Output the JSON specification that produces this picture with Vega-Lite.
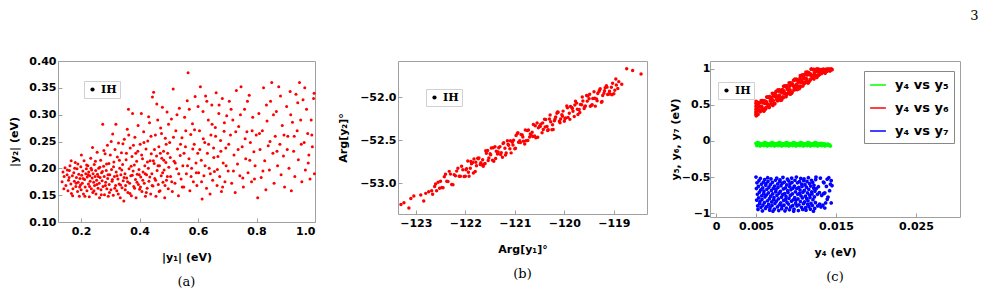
{
"$schema": "https://vega.github.io/schema/vega-lite/v6.json",
"background": "white",
"padding": {"left": 8, "top": 9, "right": 12, "bottom": 2},
"title": {"text": "3", "anchor": "end", "font": "DejaVu Serif", "fontSize": 13, "fontWeight": "normal", "offset": 32, "dx": 18, "color": "#000"},
"spacing": 20,
"resolve": {"scale": {"shape": "independent", "color": "independent"}, "legend": {"shape": "independent", "color": "independent"}},
"datasets": {
"a": [
{"x":0.135,"y":0.175},{"x":0.138,"y":0.193},{"x":0.142,"y":0.185},{"x":0.145,"y":0.201},{"x":0.148,"y":0.168},{"x":0.152,"y":0.188},{"x":0.155,"y":0.158},{"x":0.157,"y":0.178},{"x":0.16,"y":0.196},{"x":0.162,"y":0.205},{"x":0.165,"y":0.171},{"x":0.167,"y":0.153},{"x":0.17,"y":0.186},{"x":0.172,"y":0.162},{"x":0.175,"y":0.192},{"x":0.177,"y":0.176},{"x":0.18,"y":0.211},{"x":0.182,"y":0.166},{"x":0.184,"y":0.183},{"x":0.186,"y":0.199},{"x":0.188,"y":0.157},{"x":0.19,"y":0.174},{"x":0.192,"y":0.189},{"x":0.194,"y":0.148},{"x":0.196,"y":0.181},{"x":0.198,"y":0.169},{"x":0.199,"y":0.203},{"x":0.2,"y":0.16},
{"x":0.202,"y":0.187},{"x":0.204,"y":0.172},{"x":0.206,"y":0.195},{"x":0.208,"y":0.152},{"x":0.21,"y":0.214},{"x":0.212,"y":0.179},{"x":0.214,"y":0.165},{"x":0.216,"y":0.19},{"x":0.218,"y":0.199},{"x":0.22,"y":0.158},{"x":0.221,"y":0.184},{"x":0.223,"y":0.205},{"x":0.225,"y":0.171},{"x":0.226,"y":0.193},{"x":0.228,"y":0.147},{"x":0.23,"y":0.186},{"x":0.231,"y":0.176},{"x":0.233,"y":0.219},{"x":0.235,"y":0.162},{"x":0.236,"y":0.197},{"x":0.238,"y":0.182},{"x":0.24,"y":0.155},{"x":0.241,"y":0.19},{"x":0.243,"y":0.174},{"x":0.245,"y":0.207},{"x":0.246,"y":0.168},{"x":0.248,"y":0.185},{"x":0.25,"y":0.196},{"x":0.251,"y":0.152},{"x":0.253,"y":0.178},{"x":0.255,"y":0.23},{"x":0.256,"y":0.189},{"x":0.258,"y":0.163},{"x":0.26,"y":0.2},{"x":0.262,"y":0.172},{"x":0.263,"y":0.145},{"x":0.265,"y":0.183},{"x":0.267,"y":0.215},{"x":0.268,"y":0.16},{"x":0.27,"y":0.192},{"x":0.272,"y":0.177},{"x":0.274,"y":0.282},{"x":0.275,"y":0.166},{"x":0.277,"y":0.204},{"x":0.279,"y":0.185},{"x":0.28,"y":0.151},{"x":0.282,"y":0.227},{"x":0.284,"y":0.174},{"x":0.286,"y":0.196},{"x":0.288,"y":0.162},{"x":0.29,"y":0.243},{"x":0.291,"y":0.181},{"x":0.293,"y":0.148},{"x":0.295,"y":0.209},{"x":0.296,"y":0.17},{"x":0.298,"y":0.188},{"x":0.3,"y":0.225},
{"x":0.302,"y":0.16},{"x":0.304,"y":0.198},{"x":0.306,"y":0.176},{"x":0.308,"y":0.264},{"x":0.31,"y":0.15},{"x":0.312,"y":0.212},{"x":0.314,"y":0.185},{"x":0.316,"y":0.235},{"x":0.318,"y":0.168},{"x":0.32,"y":0.193},{"x":0.322,"y":0.158},{"x":0.324,"y":0.221},{"x":0.326,"y":0.18},{"x":0.328,"y":0.247},{"x":0.33,"y":0.171},{"x":0.332,"y":0.2},{"x":0.334,"y":0.145},{"x":0.336,"y":0.188},{"x":0.338,"y":0.229},{"x":0.34,"y":0.164},{"x":0.342,"y":0.207},{"x":0.344,"y":0.177},{"x":0.346,"y":0.139},{"x":0.348,"y":0.254},{"x":0.35,"y":0.19},{"x":0.352,"y":0.168},{"x":0.354,"y":0.216},{"x":0.356,"y":0.182},{"x":0.358,"y":0.273},{"x":0.36,"y":0.155},{"x":0.362,"y":0.31},{"x":0.364,"y":0.199},{"x":0.366,"y":0.172},{"x":0.368,"y":0.238},{"x":0.37,"y":0.186},{"x":0.372,"y":0.149},{"x":0.374,"y":0.222},{"x":0.376,"y":0.302},{"x":0.378,"y":0.195},{"x":0.38,"y":0.166},{"x":0.382,"y":0.206},{"x":0.384,"y":0.258},{"x":0.386,"y":0.179},{"x":0.388,"y":0.145},{"x":0.39,"y":0.213},{"x":0.392,"y":0.189},{"x":0.394,"y":0.232},{"x":0.396,"y":0.17},{"x":0.398,"y":0.198},{"x":0.4,"y":0.161},
{"x":0.402,"y":0.245},{"x":0.404,"y":0.184},{"x":0.406,"y":0.302},{"x":0.408,"y":0.157},{"x":0.41,"y":0.218},{"x":0.412,"y":0.193},{"x":0.414,"y":0.268},{"x":0.416,"y":0.172},{"x":0.418,"y":0.205},{"x":0.42,"y":0.148},{"x":0.422,"y":0.236},{"x":0.424,"y":0.188},{"x":0.426,"y":0.163},{"x":0.428,"y":0.251},{"x":0.43,"y":0.2},{"x":0.432,"y":0.176},{"x":0.434,"y":0.285},{"x":0.436,"y":0.214},{"x":0.438,"y":0.152},{"x":0.44,"y":0.227},{"x":0.442,"y":0.19},{"x":0.444,"y":0.333},{"x":0.446,"y":0.167},{"x":0.448,"y":0.342},{"x":0.45,"y":0.209},{"x":0.452,"y":0.181},{"x":0.454,"y":0.262},{"x":0.456,"y":0.148},{"x":0.458,"y":0.223},{"x":0.46,"y":0.196},{"x":0.462,"y":0.29},{"x":0.464,"y":0.17},{"x":0.466,"y":0.24},{"x":0.468,"y":0.205},{"x":0.47,"y":0.158},{"x":0.472,"y":0.275},{"x":0.474,"y":0.186},{"x":0.476,"y":0.219},{"x":0.478,"y":0.314},{"x":0.48,"y":0.174},{"x":0.482,"y":0.232},{"x":0.484,"y":0.197},{"x":0.486,"y":0.145},{"x":0.488,"y":0.256},{"x":0.49,"y":0.211},{"x":0.492,"y":0.178},{"x":0.494,"y":0.305},{"x":0.496,"y":0.228},{"x":0.498,"y":0.162},{"x":0.5,"y":0.202},
{"x":0.503,"y":0.248},{"x":0.506,"y":0.185},{"x":0.509,"y":0.292},{"x":0.512,"y":0.157},{"x":0.515,"y":0.348},{"x":0.518,"y":0.213},{"x":0.521,"y":0.172},{"x":0.524,"y":0.27},{"x":0.527,"y":0.199},{"x":0.53,"y":0.236},{"x":0.533,"y":0.149},{"x":0.536,"y":0.312},{"x":0.539,"y":0.224},{"x":0.542,"y":0.18},{"x":0.545,"y":0.257},{"x":0.548,"y":0.205},{"x":0.551,"y":0.165},{"x":0.554,"y":0.295},{"x":0.557,"y":0.24},{"x":0.56,"y":0.19},{"x":0.563,"y":0.326},{"x":0.566,"y":0.378},{"x":0.569,"y":0.218},{"x":0.572,"y":0.158},{"x":0.575,"y":0.263},{"x":0.578,"y":0.2},{"x":0.581,"y":0.283},{"x":0.584,"y":0.175},{"x":0.587,"y":0.245},{"x":0.59,"y":0.334},{"x":0.593,"y":0.21},{"x":0.596,"y":0.168},{"x":0.599,"y":0.228},
{"x":0.602,"y":0.192},{"x":0.605,"y":0.27},{"x":0.608,"y":0.352},{"x":0.611,"y":0.215},{"x":0.614,"y":0.143},{"x":0.617,"y":0.306},{"x":0.62,"y":0.186},{"x":0.623,"y":0.248},{"x":0.626,"y":0.335},{"x":0.629,"y":0.163},{"x":0.632,"y":0.228},{"x":0.635,"y":0.29},{"x":0.638,"y":0.2},{"x":0.641,"y":0.152},{"x":0.644,"y":0.262},{"x":0.647,"y":0.318},{"x":0.65,"y":0.178},{"x":0.653,"y":0.238},{"x":0.656,"y":0.194},{"x":0.659,"y":0.276},{"x":0.662,"y":0.341},{"x":0.665,"y":0.168},{"x":0.668,"y":0.222},{"x":0.671,"y":0.302},{"x":0.674,"y":0.185},{"x":0.677,"y":0.252},{"x":0.68,"y":0.157},{"x":0.683,"y":0.33},{"x":0.686,"y":0.21},{"x":0.689,"y":0.269},{"x":0.692,"y":0.175},{"x":0.695,"y":0.238},{"x":0.698,"y":0.298},
{"x":0.703,"y":0.195},{"x":0.707,"y":0.325},{"x":0.711,"y":0.262},{"x":0.715,"y":0.172},{"x":0.719,"y":0.29},{"x":0.723,"y":0.225},{"x":0.727,"y":0.155},{"x":0.731,"y":0.345},{"x":0.735,"y":0.208},{"x":0.739,"y":0.278},{"x":0.743,"y":0.186},{"x":0.747,"y":0.352},{"x":0.751,"y":0.24},{"x":0.755,"y":0.165},{"x":0.759,"y":0.31},{"x":0.763,"y":0.218},{"x":0.767,"y":0.268},{"x":0.771,"y":0.192},{"x":0.775,"y":0.336},{"x":0.779,"y":0.248},{"x":0.783,"y":0.175},{"x":0.787,"y":0.295},{"x":0.791,"y":0.231},{"x":0.795,"y":0.205},{"x":0.799,"y":0.262},
{"x":0.804,"y":0.145},{"x":0.808,"y":0.302},{"x":0.812,"y":0.235},{"x":0.816,"y":0.183},{"x":0.82,"y":0.27},{"x":0.824,"y":0.35},{"x":0.828,"y":0.214},{"x":0.832,"y":0.16},{"x":0.836,"y":0.288},{"x":0.84,"y":0.242},{"x":0.844,"y":0.197},{"x":0.848,"y":0.325},{"x":0.852,"y":0.36},{"x":0.856,"y":0.228},{"x":0.86,"y":0.172},{"x":0.864,"y":0.26},{"x":0.868,"y":0.306},{"x":0.872,"y":0.205},{"x":0.876,"y":0.352},{"x":0.88,"y":0.245},{"x":0.884,"y":0.188},{"x":0.888,"y":0.28},{"x":0.892,"y":0.223},{"x":0.896,"y":0.165},
{"x":0.903,"y":0.315},{"x":0.907,"y":0.26},{"x":0.911,"y":0.2},{"x":0.915,"y":0.343},{"x":0.919,"y":0.158},{"x":0.923,"y":0.286},{"x":0.927,"y":0.232},{"x":0.931,"y":0.185},{"x":0.935,"y":0.338},{"x":0.939,"y":0.27},{"x":0.943,"y":0.216},{"x":0.947,"y":0.36},{"x":0.951,"y":0.29},{"x":0.955,"y":0.175},{"x":0.959,"y":0.328},{"x":0.963,"y":0.248},{"x":0.967,"y":0.197},{"x":0.971,"y":0.31},{"x":0.975,"y":0.265},{"x":0.979,"y":0.225},{"x":0.983,"y":0.18},{"x":0.987,"y":0.29},{"x":0.991,"y":0.24},{"x":0.995,"y":0.33},{"x":0.998,"y":0.19},
{"x":0.141,"y":0.162},{"x":0.153,"y":0.197},{"x":0.159,"y":0.183},{"x":0.166,"y":0.214},{"x":0.171,"y":0.149},{"x":0.178,"y":0.2},{"x":0.183,"y":0.172},{"x":0.189,"y":0.208},{"x":0.195,"y":0.165},{"x":0.201,"y":0.225},{"x":0.207,"y":0.181},{"x":0.213,"y":0.148},{"x":0.219,"y":0.206},{"x":0.224,"y":0.188},{"x":0.229,"y":0.166},{"x":0.234,"y":0.2},{"x":0.239,"y":0.239},{"x":0.244,"y":0.158},{"x":0.249,"y":0.213},{"x":0.254,"y":0.17},{"x":0.259,"y":0.185},{"x":0.264,"y":0.202},{"x":0.269,"y":0.151},{"x":0.273,"y":0.194},{"x":0.278,"y":0.233},{"x":0.283,"y":0.168},{"x":0.287,"y":0.208},{"x":0.292,"y":0.188},{"x":0.297,"y":0.155},{"x":0.303,"y":0.25},{"x":0.307,"y":0.179},{"x":0.311,"y":0.203},{"x":0.315,"y":0.163},{"x":0.319,"y":0.282},{"x":0.323,"y":0.186},{"x":0.327,"y":0.152},{"x":0.331,"y":0.215},{"x":0.335,"y":0.169},{"x":0.339,"y":0.197},{"x":0.343,"y":0.246},{"x":0.347,"y":0.183},{"x":0.351,"y":0.16},{"x":0.355,"y":0.228},{"x":0.359,"y":0.175},{"x":0.363,"y":0.262},{"x":0.367,"y":0.153},{"x":0.371,"y":0.204},{"x":0.375,"y":0.187},{"x":0.379,"y":0.243},{"x":0.383,"y":0.163},{"x":0.387,"y":0.228},{"x":0.391,"y":0.174},{"x":0.395,"y":0.28},{"x":0.399,"y":0.188},{"x":0.403,"y":0.165},{"x":0.407,"y":0.225},{"x":0.411,"y":0.178},{"x":0.415,"y":0.248},{"x":0.419,"y":0.19},{"x":0.423,"y":0.155},{"x":0.427,"y":0.212},{"x":0.431,"y":0.296},{"x":0.435,"y":0.184},{"x":0.439,"y":0.26},{"x":0.443,"y":0.168},{"x":0.447,"y":0.214},{"x":0.451,"y":0.235},{"x":0.455,"y":0.178},{"x":0.459,"y":0.32},{"x":0.463,"y":0.205},{"x":0.467,"y":0.157},{"x":0.471,"y":0.228},{"x":0.475,"y":0.265},{"x":0.479,"y":0.192},{"x":0.483,"y":0.215},{"x":0.487,"y":0.168},{"x":0.491,"y":0.245},{"x":0.495,"y":0.185},{"x":0.499,"y":0.282},{"x":0.505,"y":0.22},{"x":0.51,"y":0.175},{"x":0.516,"y":0.258},{"x":0.522,"y":0.21},{"x":0.528,"y":0.3},{"x":0.534,"y":0.19},{"x":0.54,"y":0.245},{"x":0.546,"y":0.165},{"x":0.552,"y":0.228},{"x":0.558,"y":0.27},{"x":0.564,"y":0.205},{"x":0.57,"y":0.31},{"x":0.576,"y":0.185},{"x":0.582,"y":0.236},{"x":0.588,"y":0.272},{"x":0.594,"y":0.192},{"x":0.6,"y":0.315},{"x":0.606,"y":0.235},{"x":0.612,"y":0.175},{"x":0.618,"y":0.255},{"x":0.624,"y":0.205},{"x":0.63,"y":0.325},{"x":0.636,"y":0.245},{"x":0.642,"y":0.19},{"x":0.648,"y":0.282},{"x":0.654,"y":0.22},{"x":0.66,"y":0.26},{"x":0.666,"y":0.198},{"x":0.672,"y":0.318},{"x":0.678,"y":0.232},{"x":0.684,"y":0.165},{"x":0.69,"y":0.285},{"x":0.696,"y":0.205},{"x":0.705,"y":0.245},{"x":0.713,"y":0.31},{"x":0.721,"y":0.195},{"x":0.729,"y":0.268},{"x":0.737,"y":0.235},{"x":0.745,"y":0.3},{"x":0.753,"y":0.182},{"x":0.761,"y":0.255},{"x":0.769,"y":0.325},{"x":0.777,"y":0.215},{"x":0.785,"y":0.27},{"x":0.793,"y":0.18},{"x":0.81,"y":0.265},{"x":0.822,"y":0.195},{"x":0.834,"y":0.318},{"x":0.846,"y":0.25},{"x":0.858,"y":0.3},{"x":0.87,"y":0.232},{"x":0.882,"y":0.335},{"x":0.894,"y":0.262},{"x":0.905,"y":0.235},{"x":0.917,"y":0.3},{"x":0.929,"y":0.26},{"x":0.941,"y":0.322},{"x":0.953,"y":0.245},{"x":0.965,"y":0.35},{"x":0.977,"y":0.21},{"x":0.989,"y":0.262},{"x":0.997,"y":0.34}
],
"b": [
{"x":-123.3,"y":-53.25},{"x":-123.24,"y":-53.23},{"x":-123.14,"y":-53.29},{"x":-123.1,"y":-53.18},{"x":-123.04,"y":-53.15},{"x":-122.9,"y":-53.14},{"x":-122.84,"y":-53.21},{"x":-122.8,"y":-53.12},{"x":-122.74,"y":-53.1},{"x":-122.68,"y":-53.09},{"x":-122.66,"y":-53.13},{"x":-122.62,"y":-53.04},{"x":-122.6,"y":-53.01},{"x":-122.58,"y":-53.09},{"x":-122.55,"y":-52.99},{"x":-122.52,"y":-53.06},
{"x":-118.98,"y":-51.92},{"x":-118.96,"y":-51.79},{"x":-118.95,"y":-51.86},{"x":-118.92,"y":-51.9},{"x":-118.9,"y":-51.82},{"x":-118.84,"y":-51.85},{"x":-118.74,"y":-51.67},{"x":-118.62,"y":-51.69},{"x":-118.45,"y":-51.73},
{"x":-122.5,"y":-52.98},{"x":-122.45,"y":-53.054},{"x":-122.4,"y":-52.898},{"x":-122.35,"y":-52.982},{"x":-122.3,"y":-52.896},{"x":-122.25,"y":-53.02},{"x":-122.2,"y":-52.914},{"x":-122.15,"y":-52.828},{"x":-122.1,"y":-52.922},{"x":-122.05,"y":-52.846},{"x":-122.0,"y":-52.92},{"x":-121.95,"y":-52.744},{"x":-121.9,"y":-52.828},{"x":-121.85,"y":-52.762},{"x":-121.8,"y":-52.866},{"x":-121.75,"y":-52.71},{"x":-121.7,"y":-52.784},{"x":-121.65,"y":-52.728},{"x":-121.6,"y":-52.772},{"x":-121.55,"y":-52.621},{"x":-121.5,"y":-52.66},{"x":-121.45,"y":-52.734},{"x":-121.4,"y":-52.578},{"x":-121.35,"y":-52.662},{"x":-121.3,"y":-52.576},{"x":-121.25,"y":-52.7},{"x":-121.2,"y":-52.594},{"x":-121.15,"y":-52.508},{"x":-121.1,"y":-52.602},{"x":-121.05,"y":-52.526},{"x":-121.0,"y":-52.6},{"x":-120.95,"y":-52.424},{"x":-120.9,"y":-52.508},{"x":-120.85,"y":-52.442},{"x":-120.8,"y":-52.546},{"x":-120.75,"y":-52.39},{"x":-120.7,"y":-52.464},{"x":-120.65,"y":-52.408},{"x":-120.6,"y":-52.452},{"x":-120.55,"y":-52.301},{"x":-120.5,"y":-52.34},{"x":-120.45,"y":-52.414},{"x":-120.4,"y":-52.258},{"x":-120.35,"y":-52.342},{"x":-120.3,"y":-52.256},{"x":-120.25,"y":-52.38},{"x":-120.2,"y":-52.274},{"x":-120.15,"y":-52.188},{"x":-120.1,"y":-52.282},{"x":-120.05,"y":-52.206},{"x":-120.0,"y":-52.28},{"x":-119.95,"y":-52.104},{"x":-119.9,"y":-52.188},{"x":-119.85,"y":-52.122},{"x":-119.8,"y":-52.226},{"x":-119.75,"y":-52.07},{"x":-119.7,"y":-52.144},{"x":-119.65,"y":-52.088},{"x":-119.6,"y":-52.132},{"x":-119.55,"y":-51.981},{"x":-119.5,"y":-52.02},{"x":-119.45,"y":-52.094},{"x":-119.4,"y":-51.938},{"x":-119.35,"y":-52.022},{"x":-119.3,"y":-51.936},{"x":-119.25,"y":-52.06},{"x":-119.2,"y":-51.954},{"x":-119.15,"y":-51.868},{"x":-119.1,"y":-51.962},{"x":-119.05,"y":-51.886},{"x":-119.0,"y":-51.96},
{"x":-122.475,"y":-53.052},{"x":-122.425,"y":-52.926},{"x":-122.375,"y":-52.98},{"x":-122.325,"y":-52.864},{"x":-122.275,"y":-53.018},{"x":-122.225,"y":-52.902},{"x":-122.175,"y":-52.861},{"x":-122.125,"y":-52.92},{"x":-122.075,"y":-52.804},{"x":-122.025,"y":-52.923},{"x":-121.975,"y":-52.832},{"x":-121.925,"y":-52.921},{"x":-121.875,"y":-52.775},{"x":-121.825,"y":-52.719},{"x":-121.775,"y":-52.798},{"x":-121.725,"y":-52.707},{"x":-121.675,"y":-52.786},{"x":-121.625,"y":-52.78},{"x":-121.575,"y":-52.654},{"x":-121.525,"y":-52.708},{"x":-121.475,"y":-52.592},{"x":-121.425,"y":-52.746},{"x":-121.375,"y":-52.63},{"x":-121.325,"y":-52.589},{"x":-121.275,"y":-52.648},{"x":-121.225,"y":-52.532},{"x":-121.175,"y":-52.651},{"x":-121.125,"y":-52.56},{"x":-121.075,"y":-52.649},{"x":-121.025,"y":-52.503},{"x":-120.975,"y":-52.447},{"x":-120.925,"y":-52.526},{"x":-120.875,"y":-52.435},{"x":-120.825,"y":-52.514},{"x":-120.775,"y":-52.508},{"x":-120.725,"y":-52.382},{"x":-120.675,"y":-52.436},{"x":-120.625,"y":-52.32},{"x":-120.575,"y":-52.474},{"x":-120.525,"y":-52.358},{"x":-120.475,"y":-52.317},{"x":-120.425,"y":-52.376},{"x":-120.375,"y":-52.26},{"x":-120.325,"y":-52.379},{"x":-120.275,"y":-52.288},{"x":-120.225,"y":-52.377},{"x":-120.175,"y":-52.231},{"x":-120.125,"y":-52.175},{"x":-120.075,"y":-52.254},{"x":-120.025,"y":-52.163},{"x":-119.975,"y":-52.242},{"x":-119.925,"y":-52.236},{"x":-119.875,"y":-52.11},{"x":-119.825,"y":-52.164},{"x":-119.775,"y":-52.048},{"x":-119.725,"y":-52.202},{"x":-119.675,"y":-52.086},{"x":-119.625,"y":-52.045},{"x":-119.575,"y":-52.104},{"x":-119.525,"y":-51.988},{"x":-119.475,"y":-52.107},{"x":-119.425,"y":-52.016},{"x":-119.375,"y":-52.105},{"x":-119.325,"y":-51.959},{"x":-119.275,"y":-51.903},{"x":-119.225,"y":-51.982},{"x":-119.175,"y":-51.891},{"x":-119.125,"y":-51.97},{"x":-119.075,"y":-51.964},{"x":-119.025,"y":-51.838},
{"x":-121.9875,"y":-52.846},{"x":-121.9375,"y":-52.875},{"x":-121.8875,"y":-52.749},{"x":-121.8375,"y":-52.883},{"x":-121.7875,"y":-52.757},{"x":-121.7375,"y":-52.716},{"x":-121.6875,"y":-52.765},{"x":-121.6375,"y":-52.804},{"x":-121.5875,"y":-52.623},{"x":-121.5375,"y":-52.737},{"x":-121.4875,"y":-52.671},{"x":-121.4375,"y":-52.59},{"x":-121.3875,"y":-52.714},{"x":-121.3375,"y":-52.638},{"x":-121.2875,"y":-52.667},{"x":-121.2375,"y":-52.541},{"x":-121.1875,"y":-52.675},{"x":-121.1375,"y":-52.549},{"x":-121.0875,"y":-52.508},{"x":-121.0375,"y":-52.557},{"x":-120.9875,"y":-52.596},{"x":-120.9375,"y":-52.415},{"x":-120.8875,"y":-52.529},{"x":-120.8375,"y":-52.463},{"x":-120.7875,"y":-52.382},{"x":-120.7375,"y":-52.506},{"x":-120.6875,"y":-52.43},{"x":-120.6375,"y":-52.459},{"x":-120.5875,"y":-52.333},{"x":-120.5375,"y":-52.467},{"x":-120.4875,"y":-52.341},{"x":-120.4375,"y":-52.3},{"x":-120.3875,"y":-52.349},{"x":-120.3375,"y":-52.388},{"x":-120.2875,"y":-52.207},{"x":-120.2375,"y":-52.321},{"x":-120.1875,"y":-52.255},{"x":-120.1375,"y":-52.174},{"x":-120.0875,"y":-52.298},{"x":-120.0375,"y":-52.222},{"x":-119.9875,"y":-52.251},{"x":-119.9375,"y":-52.125},{"x":-119.8875,"y":-52.259},{"x":-119.8375,"y":-52.133},{"x":-119.7875,"y":-52.092},{"x":-119.7375,"y":-52.141},{"x":-119.6875,"y":-52.18},{"x":-119.6375,"y":-51.999},{"x":-119.5875,"y":-52.113},{"x":-119.5375,"y":-52.047},{"x":-119.4875,"y":-51.966},{"x":-119.4375,"y":-52.09},{"x":-119.3875,"y":-52.014},{"x":-119.3375,"y":-52.043},{"x":-119.2875,"y":-51.917},{"x":-119.2375,"y":-52.051},{"x":-119.1875,"y":-51.925},{"x":-119.1375,"y":-51.884},{"x":-119.0875,"y":-51.933},{"x":-119.0375,"y":-51.972}
],
"c5": [
{"x":0.005,"y":-0.033},{"x":0.0051,"y":-0.063},{"x":0.0052,"y":-0.023},{"x":0.0053,"y":-0.051},{"x":0.0054,"y":-0.029},{"x":0.0055,"y":-0.069},{"x":0.0056,"y":-0.039},{"x":0.0057,"y":-0.057},{"x":0.0058,"y":-0.045},
{"x":0.0059,"y":-0.033},{"x":0.006,"y":-0.063},{"x":0.0061,"y":-0.023},{"x":0.0062,"y":-0.051},{"x":0.0063,"y":-0.029},{"x":0.0064,"y":-0.069},{"x":0.0065,"y":-0.039},{"x":0.0066,"y":-0.057},{"x":0.0067,"y":-0.045},
{"x":0.0068,"y":-0.033},{"x":0.0069,"y":-0.063},{"x":0.007,"y":-0.023},{"x":0.0071,"y":-0.051},{"x":0.0072,"y":-0.029},{"x":0.0073,"y":-0.069},{"x":0.0074,"y":-0.039},{"x":0.0075,"y":-0.057},{"x":0.0076,"y":-0.045},
{"x":0.0077,"y":-0.033},{"x":0.0078,"y":-0.063},{"x":0.0079,"y":-0.023},{"x":0.008,"y":-0.051},{"x":0.0081,"y":-0.029},{"x":0.0082,"y":-0.069},{"x":0.0083,"y":-0.039},{"x":0.0084,"y":-0.057},{"x":0.0085,"y":-0.045},
{"x":0.0086,"y":-0.033},{"x":0.0087,"y":-0.063},{"x":0.0088,"y":-0.023},{"x":0.0089,"y":-0.051},{"x":0.009,"y":-0.029},{"x":0.0091,"y":-0.069},{"x":0.0092,"y":-0.039},{"x":0.0093,"y":-0.057},{"x":0.0094,"y":-0.045},
{"x":0.0095,"y":-0.033},{"x":0.0096,"y":-0.063},{"x":0.0097,"y":-0.023},{"x":0.0098,"y":-0.051},{"x":0.0099,"y":-0.029},{"x":0.01,"y":-0.069},{"x":0.0101,"y":-0.039},{"x":0.0102,"y":-0.057},{"x":0.0103,"y":-0.045},
{"x":0.0104,"y":-0.033},{"x":0.0105,"y":-0.063},{"x":0.0106,"y":-0.023},{"x":0.0107,"y":-0.051},{"x":0.0108,"y":-0.029},{"x":0.0109,"y":-0.069},{"x":0.011,"y":-0.039},{"x":0.0111,"y":-0.057},{"x":0.0112,"y":-0.045},
{"x":0.0113,"y":-0.033},{"x":0.0114,"y":-0.063},{"x":0.0115,"y":-0.023},{"x":0.0116,"y":-0.051},{"x":0.0117,"y":-0.029},{"x":0.0118,"y":-0.069},{"x":0.0119,"y":-0.039},{"x":0.012,"y":-0.057},{"x":0.0121,"y":-0.045},
{"x":0.0122,"y":-0.033},{"x":0.0123,"y":-0.063},{"x":0.0124,"y":-0.023},{"x":0.0125,"y":-0.051},{"x":0.0126,"y":-0.029},{"x":0.0127,"y":-0.069},{"x":0.0128,"y":-0.039},{"x":0.0129,"y":-0.057},{"x":0.013,"y":-0.045},
{"x":0.0131,"y":-0.033},{"x":0.0132,"y":-0.063},{"x":0.0133,"y":-0.035},{"x":0.0134,"y":-0.051},{"x":0.0135,"y":-0.041},{"x":0.0136,"y":-0.069},{"x":0.0137,"y":-0.045},{"x":0.0138,"y":-0.057},{"x":0.0139,"y":-0.05},{"x":0.014,"y":-0.045},{"x":0.0141,"y":-0.06},{"x":0.0142,"y":-0.055},{"x":0.0143,"y":-0.07}
],
"c6": [
{"x":0.005,"y":0.4},{"x":0.005,"y":0.44},{"x":0.005,"y":0.52},{"x":0.005,"y":0.37},{"x":0.00502,"y":0.55},{"x":0.00503,"y":0.35},
{"x":0.005,"y":0.48},{"x":0.0051,"y":0.367},{"x":0.0052,"y":0.464},{"x":0.0053,"y":0.531},{"x":0.0054,"y":0.428},{"x":0.0055,"y":0.405},{"x":0.0056,"y":0.537},{"x":0.0057,"y":0.479},{"x":0.0058,"y":0.441},{"x":0.0059,"y":0.529},{"x":0.006,"y":0.416},{"x":0.0061,"y":0.558},{"x":0.0062,"y":0.445},{"x":0.0063,"y":0.542},{"x":0.0064,"y":0.609},{"x":0.0065,"y":0.506},{"x":0.0066,"y":0.483},{"x":0.0067,"y":0.615},{"x":0.0068,"y":0.557},{"x":0.0069,"y":0.519},{"x":0.007,"y":0.606},{"x":0.0071,"y":0.493},{"x":0.0072,"y":0.635},{"x":0.0073,"y":0.522},{"x":0.0074,"y":0.619},{"x":0.0075,"y":0.687},{"x":0.0076,"y":0.584},{"x":0.0077,"y":0.561},{"x":0.0078,"y":0.693},{"x":0.0079,"y":0.635},{"x":0.008,"y":0.597},{"x":0.0081,"y":0.684},{"x":0.0082,"y":0.571},{"x":0.0083,"y":0.713},{"x":0.0084,"y":0.6},{"x":0.0085,"y":0.697},{"x":0.0086,"y":0.764},{"x":0.0087,"y":0.661},{"x":0.0088,"y":0.638},{"x":0.0089,"y":0.77},{"x":0.009,"y":0.712},{"x":0.0091,"y":0.674},{"x":0.0092,"y":0.762},{"x":0.0093,"y":0.649},{"x":0.0094,"y":0.791},{"x":0.0095,"y":0.678},{"x":0.0096,"y":0.775},{"x":0.0097,"y":0.842},{"x":0.0098,"y":0.739},{"x":0.0099,"y":0.716},{"x":0.01,"y":0.848},{"x":0.0101,"y":0.79},{"x":0.0102,"y":0.752},{"x":0.0103,"y":0.839},{"x":0.0104,"y":0.726},{"x":0.0105,"y":0.868},{"x":0.0106,"y":0.755},{"x":0.0107,"y":0.852},{"x":0.0108,"y":0.919},{"x":0.0109,"y":0.817},{"x":0.011,"y":0.794},{"x":0.0111,"y":0.926},{"x":0.0112,"y":0.868},{"x":0.0113,"y":0.83},{"x":0.0114,"y":0.917},{"x":0.0115,"y":0.804},{"x":0.0116,"y":0.946},{"x":0.0117,"y":0.833},{"x":0.0118,"y":0.93},{"x":0.0119,"y":0.997},{"x":0.012,"y":0.894},{"x":0.0121,"y":0.871},{"x":0.0122,"y":0.995},{"x":0.0123,"y":0.945},{"x":0.0124,"y":0.907},{"x":0.0125,"y":0.994},{"x":0.0126,"y":0.881},{"x":0.0127,"y":0.998},{"x":0.0128,"y":0.91},{"x":0.0129,"y":0.99},{"x":0.013,"y":0.962},{"x":0.0131,"y":0.991},{"x":0.0132,"y":0.938},{"x":0.0133,"y":0.985},{"x":0.0134,"y":0.999},{"x":0.0135,"y":0.955},{"x":0.0136,"y":0.992},{"x":0.0137,"y":0.975},{"x":0.0138,"y":0.998},{"x":0.0139,"y":0.968},{"x":0.014,"y":0.994},{"x":0.0141,"y":0.982},{"x":0.0142,"y":0.997},{"x":0.0143,"y":0.988},{"x":0.0144,"y":0.996},{"x":0.0145,"y":0.99},
{"x":0.00505,"y":0.414},{"x":0.00515,"y":0.511},{"x":0.00525,"y":0.368},{"x":0.00535,"y":0.495},{"x":0.00545,"y":0.472},{"x":0.00555,"y":0.414},{"x":0.00565,"y":0.561},{"x":0.00575,"y":0.463},{"x":0.00585,"y":0.56},{"x":0.00595,"y":0.417},{"x":0.00605,"y":0.544},{"x":0.00615,"y":0.521},{"x":0.00625,"y":0.463},{"x":0.00635,"y":0.61},{"x":0.00645,"y":0.512},{"x":0.00655,"y":0.609},{"x":0.00665,"y":0.467},{"x":0.00675,"y":0.594},{"x":0.00685,"y":0.571},{"x":0.00695,"y":0.513},{"x":0.00705,"y":0.66},{"x":0.00715,"y":0.562},{"x":0.00725,"y":0.659},{"x":0.00735,"y":0.516},{"x":0.00745,"y":0.643},{"x":0.00755,"y":0.62},{"x":0.00765,"y":0.562},{"x":0.00775,"y":0.709},{"x":0.00785,"y":0.611},{"x":0.00795,"y":0.708},{"x":0.00805,"y":0.565},{"x":0.00815,"y":0.692},{"x":0.00825,"y":0.669},{"x":0.00835,"y":0.612},{"x":0.00845,"y":0.759},{"x":0.00855,"y":0.661},{"x":0.00865,"y":0.758},{"x":0.00875,"y":0.615},{"x":0.00885,"y":0.742},{"x":0.00895,"y":0.719},{"x":0.00905,"y":0.661},{"x":0.00915,"y":0.808},{"x":0.00925,"y":0.71},{"x":0.00935,"y":0.807},{"x":0.00945,"y":0.664},{"x":0.00955,"y":0.791},{"x":0.00965,"y":0.768},{"x":0.00975,"y":0.71},{"x":0.00985,"y":0.857},{"x":0.00995,"y":0.759},{"x":0.01005,"y":0.857},{"x":0.01015,"y":0.714},{"x":0.01025,"y":0.841},{"x":0.01035,"y":0.818},{"x":0.01045,"y":0.76},{"x":0.01055,"y":0.907},{"x":0.01065,"y":0.809},{"x":0.01075,"y":0.906},{"x":0.01085,"y":0.763},{"x":0.01095,"y":0.89},{"x":0.01105,"y":0.867},{"x":0.01115,"y":0.809},{"x":0.01125,"y":0.956},{"x":0.01135,"y":0.858},{"x":0.01145,"y":0.955},{"x":0.01155,"y":0.812},{"x":0.01165,"y":0.94},{"x":0.01175,"y":0.917},{"x":0.01185,"y":0.859},{"x":0.01195,"y":0.996},{"x":0.01205,"y":0.908},{"x":0.01215,"y":0.99},{"x":0.01225,"y":0.862},{"x":0.01235,"y":0.989},{"x":0.01245,"y":0.966},{"x":0.01255,"y":0.908},{"x":0.01265,"y":0.997},{"x":0.01275,"y":0.957},{"x":0.01285,"y":0.993},{"x":0.01295,"y":0.925},{"x":0.01305,"y":0.978},{"x":0.01325,"y":0.952},{"x":0.01345,"y":0.991},{"x":0.01365,"y":0.942},{"x":0.01385,"y":0.985},{"x":0.01405,"y":0.999},{"x":0.01425,"y":0.972},{"x":0.01445,"y":0.996}
],
"c7": [
{"x":0.005,"y":-0.5},{"x":0.00512,"y":-0.58},{"x":0.00505,"y":-0.66},{"x":0.00518,"y":-0.74},{"x":0.00509,"y":-0.82},{"x":0.00521,"y":-0.9},
{"x":0.00537,"y":-0.55},{"x":0.0053,"y":-0.63},{"x":0.00543,"y":-0.71},{"x":0.00534,"y":-0.79},{"x":0.00546,"y":-0.87},{"x":0.00525,"y":-0.95},
{"x":0.00555,"y":-0.52},{"x":0.00568,"y":-0.6},{"x":0.00559,"y":-0.68},{"x":0.00571,"y":-0.76},{"x":0.0055,"y":-0.84},{"x":0.00562,"y":-0.92},
{"x":0.00593,"y":-0.57},{"x":0.00584,"y":-0.65},{"x":0.00596,"y":-0.73},{"x":0.00575,"y":-0.81},{"x":0.00587,"y":-0.89},{"x":0.0058,"y":-0.97},
{"x":0.00609,"y":-0.535},{"x":0.00621,"y":-0.615},{"x":0.006,"y":-0.695},{"x":0.00612,"y":-0.775},{"x":0.00605,"y":-0.855},{"x":0.00618,"y":-0.935},
{"x":0.00646,"y":-0.51},{"x":0.00625,"y":-0.59},{"x":0.00637,"y":-0.67},{"x":0.0063,"y":-0.75},{"x":0.00643,"y":-0.83},{"x":0.00634,"y":-0.91},
{"x":0.0065,"y":-0.56},{"x":0.00662,"y":-0.64},{"x":0.00655,"y":-0.72},{"x":0.00668,"y":-0.8},{"x":0.00659,"y":-0.88},{"x":0.00671,"y":-0.96},
{"x":0.00687,"y":-0.525},{"x":0.0068,"y":-0.605},{"x":0.00693,"y":-0.685},{"x":0.00684,"y":-0.765},{"x":0.00696,"y":-0.845},{"x":0.00675,"y":-0.925},
{"x":0.00705,"y":-0.575},{"x":0.00718,"y":-0.655},{"x":0.00709,"y":-0.735},{"x":0.00721,"y":-0.815},{"x":0.007,"y":-0.895},{"x":0.00712,"y":-0.975},
{"x":0.00743,"y":-0.545},{"x":0.00734,"y":-0.625},{"x":0.00746,"y":-0.705},{"x":0.00725,"y":-0.785},{"x":0.00737,"y":-0.865},{"x":0.0073,"y":-0.945},
{"x":0.00759,"y":-0.515},{"x":0.00771,"y":-0.595},{"x":0.0075,"y":-0.675},{"x":0.00762,"y":-0.755},{"x":0.00755,"y":-0.835},{"x":0.00768,"y":-0.915},
{"x":0.00796,"y":-0.565},{"x":0.00775,"y":-0.645},{"x":0.00787,"y":-0.725},{"x":0.0078,"y":-0.805},{"x":0.00793,"y":-0.885},{"x":0.00784,"y":-0.965},
{"x":0.008,"y":-0.54},{"x":0.00812,"y":-0.62},{"x":0.00805,"y":-0.7},{"x":0.00818,"y":-0.78},{"x":0.00809,"y":-0.86},{"x":0.00821,"y":-0.94},
{"x":0.00837,"y":-0.505},{"x":0.0083,"y":-0.585},{"x":0.00843,"y":-0.665},{"x":0.00834,"y":-0.745},{"x":0.00846,"y":-0.825},{"x":0.00825,"y":-0.905},
{"x":0.00855,"y":-0.57},{"x":0.00868,"y":-0.65},{"x":0.00859,"y":-0.73},{"x":0.00871,"y":-0.81},{"x":0.0085,"y":-0.89},{"x":0.00862,"y":-0.97},
{"x":0.00893,"y":-0.53},{"x":0.00884,"y":-0.61},{"x":0.00896,"y":-0.69},{"x":0.00875,"y":-0.77},{"x":0.00887,"y":-0.85},{"x":0.0088,"y":-0.93},
{"x":0.00909,"y":-0.555},{"x":0.00921,"y":-0.635},{"x":0.009,"y":-0.715},{"x":0.00912,"y":-0.795},{"x":0.00905,"y":-0.875},{"x":0.00918,"y":-0.955},
{"x":0.00946,"y":-0.515},{"x":0.00925,"y":-0.595},{"x":0.00937,"y":-0.675},{"x":0.0093,"y":-0.755},{"x":0.00943,"y":-0.835},{"x":0.00934,"y":-0.915},
{"x":0.0095,"y":-0.575},{"x":0.00962,"y":-0.655},{"x":0.00955,"y":-0.735},{"x":0.00968,"y":-0.815},{"x":0.00959,"y":-0.895},{"x":0.00971,"y":-0.975},
{"x":0.00987,"y":-0.545},{"x":0.0098,"y":-0.625},{"x":0.00993,"y":-0.705},{"x":0.00984,"y":-0.785},{"x":0.00996,"y":-0.865},{"x":0.00975,"y":-0.945},
{"x":0.01005,"y":-0.5},{"x":0.01018,"y":-0.58},{"x":0.01009,"y":-0.66},{"x":0.01021,"y":-0.74},{"x":0.01,"y":-0.82},{"x":0.01012,"y":-0.9},
{"x":0.01043,"y":-0.565},{"x":0.01034,"y":-0.645},{"x":0.01046,"y":-0.725},{"x":0.01025,"y":-0.805},{"x":0.01037,"y":-0.885},{"x":0.0103,"y":-0.965},
{"x":0.01059,"y":-0.52},{"x":0.01071,"y":-0.6},{"x":0.0105,"y":-0.68},{"x":0.01062,"y":-0.76},{"x":0.01055,"y":-0.84},{"x":0.01068,"y":-0.92},
{"x":0.01096,"y":-0.55},{"x":0.01075,"y":-0.63},{"x":0.01087,"y":-0.71},{"x":0.0108,"y":-0.79},{"x":0.01093,"y":-0.87},{"x":0.01084,"y":-0.95},
{"x":0.011,"y":-0.525},{"x":0.01112,"y":-0.605},{"x":0.01105,"y":-0.685},{"x":0.01118,"y":-0.765},{"x":0.01109,"y":-0.845},{"x":0.01121,"y":-0.925},
{"x":0.01137,"y":-0.56},{"x":0.0113,"y":-0.64},{"x":0.01143,"y":-0.72},{"x":0.01134,"y":-0.8},{"x":0.01146,"y":-0.88},{"x":0.01125,"y":-0.96},
{"x":0.01155,"y":-0.51},{"x":0.01168,"y":-0.59},{"x":0.01159,"y":-0.67},{"x":0.01171,"y":-0.75},{"x":0.0115,"y":-0.83},{"x":0.01162,"y":-0.91},
{"x":0.01193,"y":-0.545},{"x":0.01184,"y":-0.625},{"x":0.01196,"y":-0.705},{"x":0.01175,"y":-0.785},{"x":0.01187,"y":-0.865},{"x":0.0118,"y":-0.945},
{"x":0.01209,"y":-0.575},{"x":0.01221,"y":-0.655},{"x":0.012,"y":-0.735},{"x":0.01212,"y":-0.815},{"x":0.01205,"y":-0.895},{"x":0.01218,"y":-0.975},
{"x":0.01246,"y":-0.535},{"x":0.01225,"y":-0.615},{"x":0.01237,"y":-0.695},{"x":0.0123,"y":-0.775},{"x":0.01243,"y":-0.855},{"x":0.01234,"y":-0.935},
{"x":0.0125,"y":-0.5},{"x":0.01255,"y":-0.66},{"x":0.01268,"y":-0.74},{"x":0.01271,"y":-0.9},
{"x":0.0128,"y":-0.635},{"x":0.01293,"y":-0.715},{"x":0.01296,"y":-0.875},
{"x":0.01305,"y":-0.515},{"x":0.01321,"y":-0.755},{"x":0.01312,"y":-0.915},
{"x":0.01343,"y":-0.57},{"x":0.01346,"y":-0.73},{"x":0.01337,"y":-0.89},
{"x":0.0135,"y":-0.58},{"x":0.0136,"y":-0.72},{"x":0.0137,"y":-0.86},{"x":0.0138,"y":-0.63},{"x":0.0139,"y":-0.53},{"x":0.014,"y":-0.78},{"x":0.0141,"y":-0.51},{"x":0.0142,"y":-0.69},{"x":0.0143,"y":-0.6},{"x":0.0144,"y":-0.55},{"x":0.0145,"y":-0.62},{"x":0.0144,"y":-0.86},{"x":0.0136,"y":-0.93},{"x":0.0139,"y":-0.81}
]
},
"hconcat": [
{
"width": 257, "height": 161,
"title": {"text": "(a)", "orient": "bottom", "anchor": "middle", "font": "DejaVu Serif", "fontSize": 13, "fontWeight": "normal", "offset": 14},
"layer": [
{"data": {"name": "a"},
 "mark": {"type": "point", "filled": true, "color": "#ff0000", "size": 9, "opacity": 1, "strokeWidth": 0},
 "encoding": {
 "x": {"field": "x", "type": "quantitative", "scale": {"domain": [0.121, 1.0], "nice": false, "zero": false}, "axis": {"values": [0.2, 0.4, 0.6, 0.8, 1.0], "format": ".1f", "title": "|y₁| (eV)", "titlePadding": 15, "labelPadding": 7}},
 "y": {"field": "y", "type": "quantitative", "scale": {"domain": [0.1, 0.4], "nice": false, "zero": false}, "axis": {"values": [0.1, 0.15, 0.2, 0.25, 0.3, 0.35, 0.4], "format": ".2f", "title": "|y₂| (eV)", "titlePadding": 9, "labelPadding": 6}}
 }},
{"data": {"values": []},
 "mark": {"type": "point", "filled": true, "color": "#000000", "size": 16, "opacity": 1},
 "encoding": {"shape": {"datum": "IH", "scale": {"range": ["circle"]}, "legend": {"orient": "none", "legendX": 26, "legendY": 20, "title": null, "symbolSize": 18}}}}
]
},
{
"width": 249, "height": 153,
"title": {"text": "(b)", "orient": "bottom", "anchor": "middle", "font": "DejaVu Serif", "fontSize": 13, "fontWeight": "normal", "offset": 14},
"layer": [
{"data": {"name": "b"},
 "mark": {"type": "point", "filled": true, "color": "#ff0000", "size": 12, "opacity": 1, "strokeWidth": 0},
 "encoding": {
 "x": {"field": "x", "type": "quantitative", "scale": {"domain": [-123.36, -118.33], "nice": false, "zero": false}, "axis": {"values": [-123, -122, -121, -120, -119], "format": "d", "title": "Arg[y₁]°", "titlePadding": 15, "labelPadding": 7}},
 "y": {"field": "y", "type": "quantitative", "scale": {"domain": [-53.36, -51.58], "nice": false, "zero": false}, "axis": {"values": [-53, -52.5, -52], "format": ".1f", "title": "Arg[y₂]°", "titlePadding": 11, "labelPadding": 6}}
 }},
{"data": {"values": []},
 "mark": {"type": "point", "filled": true, "color": "#000000", "size": 16, "opacity": 1},
 "encoding": {"shape": {"datum": "IH", "scale": {"range": ["circle"]}, "legend": {"orient": "none", "legendX": 28, "legendY": 28, "title": null, "symbolSize": 18}}}}
]
},
{
"width": 250, "height": 156,
"title": {"text": "(c)", "orient": "bottom", "anchor": "middle", "font": "DejaVu Serif", "fontSize": 13, "fontWeight": "normal", "offset": 14},
"encoding": {
"x": {"field": "x", "type": "quantitative", "scale": {"domain": [-0.00075, 0.0305], "nice": false, "zero": false}, "axis": {"values": [0, 0.005, 0.015, 0.025], "labelExpr": "datum.value == 0 ? '0' : format(datum.value, '.3f')", "title": "y₄ (eV)", "titlePadding": 15, "labelPadding": 7}},
"y": {"field": "y", "type": "quantitative", "scale": {"domain": [-1.055, 1.11], "nice": false, "zero": false}, "axis": {"values": [-1, -0.5, 0, 0.5, 1], "format": "~g", "title": "y₅, y₆, y₇ (eV)", "titlePadding": 1, "labelPadding": 4}}
},
"layer": [
{"data": {"name": "c5"}, "mark": {"type": "point", "filled": false, "size": 3, "opacity": 1, "strokeWidth": 2},
 "encoding": {"color": {"datum": "y₄ vs y₅", "scale": {"domain": ["y₄ vs y₅", "y₄ vs y₆", "y₄ vs y₇"], "range": ["#00ff00", "#ff0000", "#0000ff"]},
   "legend": {"orient": "none", "legendX": 154, "legendY": 10, "title": null, "symbolType": "stroke", "symbolSize": 250, "symbolStrokeWidth": 1.5, "labelFontSize": 13, "labelFontWeight": "bold", "labelFont": "DejaVu Sans", "labelColor": "#000", "rowPadding": 7, "padding": 5, "labelOffset": 8, "strokeColor": "#888888", "encode": {"legend": {"update": {"strokeDash": {"value": [3, 3]}, "strokeWidth": {"value": 2}}}}}}}},
{"data": {"name": "c6"}, "mark": {"type": "point", "filled": false, "size": 3, "opacity": 1, "strokeWidth": 2},
 "encoding": {"color": {"datum": "y₄ vs y₆"}}},
{"data": {"name": "c7"}, "mark": {"type": "point", "filled": false, "size": 3, "opacity": 1, "strokeWidth": 2},
 "encoding": {"color": {"datum": "y₄ vs y₇"}}},
{"data": {"values": []},
 "mark": {"type": "point", "filled": true, "color": "#000000", "size": 16, "opacity": 1},
 "encoding": {"shape": {"datum": "IH", "scale": {"range": ["circle"]}, "legend": {"orient": "none", "legendX": 8, "legendY": 21, "title": null, "symbolSize": 18}}}}
]
}
],
"config": {
"view": {"stroke": "#a0a0a0", "strokeWidth": 1},
"axis": {"grid": false, "domain": false, "ticks": true, "tickColor": "#a0a0a0", "tickSize": -4, "labelFont": "DejaVu Sans", "labelFontWeight": "bold", "labelFontSize": 11, "labelColor": "#000", "labelPadding": 6, "titleFont": "DejaVu Sans", "titleFontWeight": "bold", "titleFontSize": 11, "titleColor": "#000", "titlePadding": 9},
"legend": {"labelFont": "DejaVu Serif", "labelFontSize": 11, "labelFontWeight": "bold", "labelColor": "#000", "fillColor": "#ffffff", "strokeColor": "#d0d0d0", "padding": 3, "labelOffset": 3, "symbolOpacity": 1}
}
}
